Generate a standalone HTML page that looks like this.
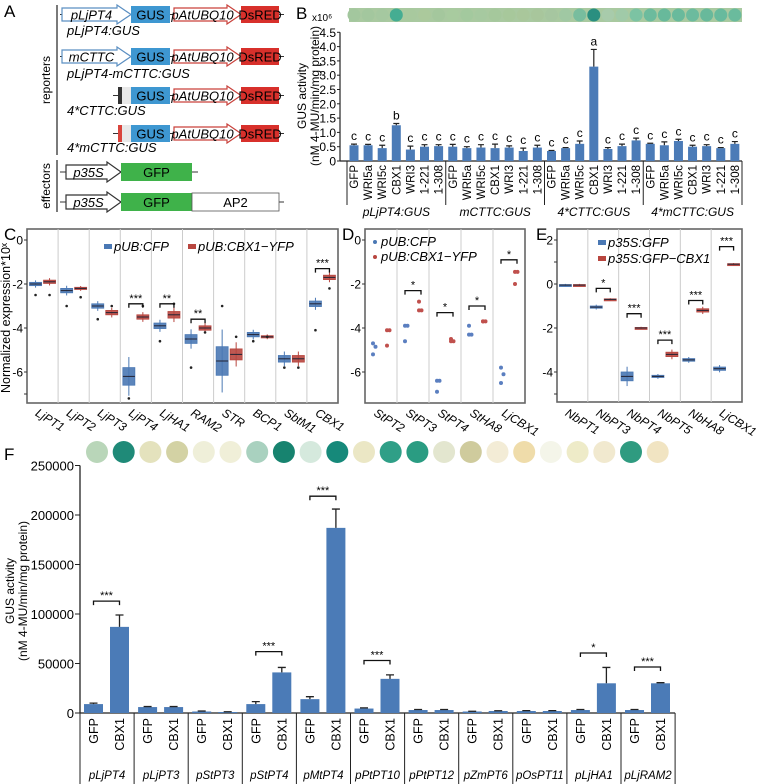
<!DOCTYPE html>
<html><head><meta charset="utf-8"><style>
html,body{margin:0;padding:0;background:#fff}
svg{display:block;font-family:"Liberation Sans",sans-serif}
</style></head><body>
<svg id="fig" width="757" height="784" viewBox="0 0 757 784" xmlns="http://www.w3.org/2000/svg">
<g id="panelA">
<text x="4" y="17" font-size="17">A</text>
<line x1="57" y1="5" x2="57" y2="155" stroke="#333" stroke-width="1.3"/>
<text transform="translate(50,80) rotate(-90)" text-anchor="middle" font-size="12">reporters</text>
<line x1="57" y1="160" x2="57" y2="212" stroke="#333" stroke-width="1.3"/>
<text transform="translate(50,186) rotate(-90)" text-anchor="middle" font-size="12">effectors</text>
</g>
<g id="panelB"></g>
<g id="panelC"></g>
<g id="panelD"></g>
<g id="panelE"></g>
<g id="panelF"></g>
</svg>
<script>
// ===== Panel B data =====
const bGroups = ["pLjPT4:GUS","mCTTC:GUS","4*CTTC:GUS","4*mCTTC:GUS"];
const bCats = ["GFP","WRI5a","WRI5c","CBX1","WRI3","1-221","1-308"];
const bValues = [0.55,0.55,0.45,1.25,0.40,0.50,0.52, 0.50,0.45,0.47,0.45,0.47,0.35,0.47, 0.35,0.45,0.60,3.30,0.42,0.52,0.72, 0.60,0.55,0.70,0.50,0.52,0.45,0.60];
const bErrors = [0.04,0.03,0.10,0.06,0.12,0.07,0.05, 0.08,0.05,0.10,0.14,0.06,0.10,0.08, 0.02,0.02,0.10,0.60,0.05,0.07,0.08, 0.02,0.12,0.06,0.05,0.05,0.02,0.08];
const bLetters = ["c","c","c","b","c","c","c","c","c","c","c","c","c","c","c","c","c","a","c","c","c","c","c","c","c","c","c","c"];
const bTicks = [0,0.5,1.0,1.5,2.0,2.5,3.0,3.5,4.0,4.5];
const bTickLabels = ["0","0.5","1.0","1.5","2.0","2.5","3.0","3.5","4.0","4.5"];
// ===== Panel C data =====
const cCats = ["LjPT1","LjPT2","LjPT3","LjPT4","LjHA1","RAM2","STR","BCP1","SbtM1","CBX1"];
const cMedBlue = [-2.0,-2.3,-3.0,-6.2,-3.9,-4.5,-5.5,-4.3,-5.4,-2.9];
const cMedRed = [-1.9,-2.2,-3.3,-3.5,-3.4,-4.0,-5.2,-4.4,-5.4,-1.7];
const cIqrBlue = [0.15,0.2,0.2,0.8,0.25,0.4,1.3,0.2,0.3,0.25];
const cIqrRed = [0.15,0.1,0.2,0.2,0.3,0.2,0.5,0.1,0.3,0.2];
const cOutBlue = [-2.5,-3.0,-3.6,-7.2,-4.6,-5.8,-3.0,-4.6,-5.8,-4.1];
const cOutRed = [-2.5,-2.6,-3.0,-3.0,-2.9,-4.2,-4.4,-4.4,-5.8,-2.2];
const cSig = ["","","","***","**","**","","","","***"];
const cSigLevel = [0,0,0,-2.9,-2.9,-3.6,0,0,0,-1.3];
// ===== Panel D data =====
const dCats = ["StPT2","StPT3","StPT4","StHA8","LjCBX1"];
const dBlue = [[-4.7,-4.85,-5.2],[-3.9,-3.9,-4.6],[-6.4,-6.4,-6.9],[-3.9,-4.3,-4.3],[-5.8,-6.1,-6.5]];
const dRed = [[-4.1,-4.1,-4.8],[-2.8,-3.2,-3.2],[-4.5,-4.6,-4.6],[-3.7,-3.7,-3.7],[-1.45,-1.45,-2.0]];
const dSig = ["","*","*","*","*"];
const dSigLevel = [0,-2.3,-3.3,-3.0,-0.9];
// ===== Panel E data =====
const eCats = ["NbPT1","NbPT3","NbPT4","NbPT5","NbHA8","LjCBX1"];
const eMedBlue = [-0.05,-1.05,-4.2,-4.2,-3.45,-3.85];
const eMedRed = [-0.05,-0.7,-2.0,-3.2,-1.2,0.9];
const eIqrBlue = [0.05,0.1,0.4,0.1,0.12,0.15];
const eIqrRed = [0.05,0.05,0.05,0.2,0.15,0.05];
const eSig = ["","*","***","***","***","***"];
const eSigLevel = [0,-0.2,-1.35,-2.55,-0.75,1.7];
// ===== Panel F data =====
const fGroups = ["pLjPT4","pLjPT3","pStPT3","pStPT4","pMtPT4","pPtPT10","pPtPT12","pZmPT6","pOsPT11","pLjHA1","pLjRAM2"];
const fGFP = [9000,6000,1500,9000,14000,4500,3000,1500,2000,3000,3000];
const fCBX1 = [87000,6000,1000,41000,187000,34500,3000,2000,2000,30000,30000];
const fGFPerr = [1000,500,500,2500,2500,700,500,300,400,500,500];
const fCBX1err = [12000,500,300,5000,19000,4000,500,300,400,16000,600];
const fSig = ["***","","","***","***","***","","","","*","***"];
const fSigLevel = [113000,0,0,62000,219000,53000,0,0,0,60600,46500];
const fTicks = [0,50000,100000,150000,200000,250000];
const fTickLabels = ["0","50000","100000","150000","200000","250000"];
const fDotColors = ["#b9d6b9","#1f8a78","#e4e2bd","#d3d2a4","#efefd9","#f0efd8","#a9d1bf","#17836f","#d5e9dd","#16897a","#ebe7c5","#2f9f87","#2a9c82","#e3e6cf","#cfcb9d","#f3ecd6","#efdcaa","#f4f5e9","#eeebc8","#f1e9cf","#2f9b80","#f1e4c2"];
const bStripColors = ["#a3c79e","#a3c79e","#a5c8a0","#45ad92","#a8c99e","#abc99c","#a4c79d","#a8cb9f","#a3c99e","#a6c9a0","#a5c89c","#a7c89b","#a9c79b","#a8c69c","#a6c6a0","#a0c8a3","#78bd9e","#2a8f80","#a8cbab","#a0caa8","#7cc3a3","#6cbb9d","#68b99b","#69ba9c","#6cbb9e","#68b99b","#67ba9d","#6abb9d"];

const NS="http://www.w3.org/2000/svg";
function mk(parent,tag,attrs,txt){const e=document.createElementNS(NS,tag);for(const k in attrs)e.setAttribute(k,attrs[k]);if(txt!==undefined)e.textContent=txt;parent.appendChild(e);return e;}
const BLUE="#4a78b4", RED="#b8463f", BAR="#4b7bb7";

// ===== Panel A constructs =====
(function(){
const g=document.getElementById('panelA');
function promoter(x1,x2,y,h,label,stroke,name){
  const p=mk(g,'path',{d:`M${x1},${y+3} L${x2-14},${y+3} L${x2-14},${y} L${x2},${y+h/2} L${x2-14},${y+h} L${x2-14},${y+h-3} L${x1},${y+h-3} Z`,fill:'#fff',stroke:stroke,'stroke-width':1.2});
  
  
  const t=mk(g,'text',{x:(x1+x2-10)/2,y:y+h/2+5,'text-anchor':'middle','font-size':13,'font-style':'italic'},label);
  
  
}
function box(x1,x2,y,h,fill,label,name){
  const r=mk(g,'rect',{x:x1,y:y,width:x2-x1,height:h,fill:fill,stroke:fill==='#fff'?'#555':'none','stroke-width':0.8});
  
  
  if(label){const t=mk(g,'text',{x:(x1+x2)/2,y:y+h/2+5,'text-anchor':'middle','font-size':13},label);
  
  }
}
const rows=[{y:6,pro:'pLjPT4',lab:'pLjPT4:GUS',ly:35},{y:48,pro:'mCTTC',lab:'pLjPT4-mCTTC:GUS',ly:78},{y:87,pro:null,lab:'4*CTTC:GUS',ly:115,m:'#333'},{y:125,pro:null,lab:'4*mCTTC:GUS',ly:152,m:'#d9443c'}];
rows.forEach((r,i)=>{
  const h=17;
  mk(g,'line',{x1:r.pro?60:113,y1:r.y+h/2,x2:284,y2:r.y+h/2,stroke:'#333','stroke-width':1});
  if(r.pro) promoter(62,131,r.y-1,h+2,r.pro,'#5b8fc2','reporter-promoter-'+i);
  else{ box(118,122,r.y,h,r.m,null,'cttc-element-'+i); box(122,131,r.y,h,'#e8e8e8',null,'core-promoter-'+i);}
  box(131,170,r.y,h,'#3e97d1','GUS','gus-box-'+i);
  promoter(174,241,r.y-1,h+2,'pAtUBQ10','#c9413b','ubq10-promoter-'+i);
  box(241,279,r.y,h,'#d8302b','DsRED','dsred-box-'+i);
  const t=mk(g,'text',{x:67,y:r.ly,'font-size':13,'font-style':'italic'},r.lab);
  
  
});
[163,193].forEach((y,i)=>{
  const h=18;
  mk(g,'line',{x1:60,y1:y+h/2,x2:i?284:198,y2:y+h/2,stroke:'#333','stroke-width':1});
  promoter(66,121,y-1,h+2,'p35S','#333','effector-promoter-'+i);
  box(121,192,y,h,'#3fb24a','GFP','gfp-box-'+i);
  if(i) box(192,279,y,h,'#fff','AP2','ap2-box');
});
})();

// ===== Panel B =====
(function(){
const g=document.getElementById('panelB');
const y0=161, ppu=28.6, x0=347, gw=98.75, bw=14.1;
const yB=v=>y0-v*ppu;
const xB=i=>x0+gw*Math.floor(i/7)+7+bw*(i%7);
mk(g,'text',{x:296,y:19,'font-size':17},'B');
const xl=mk(g,'text',{x:312,y:21,'font-size':10},'x10⁶');


mk(g,'rect',{x:349,y:8,width:393,height:14,fill:'#a9c9a0'});
bStripColors.forEach((c,i)=>{
  const d=mk(g,'circle',{cx:xB(i),cy:15,r:6.5,fill:c});
  
  
});
const t1=mk(g,'text',{transform:'translate(306,96) rotate(-90)','text-anchor':'middle','font-size':12},'GUS activity');


mk(g,'text',{transform:'translate(319,96) rotate(-90)','text-anchor':'middle','font-size':12},'(nM 4-MU/min/mg protein)');
mk(g,'line',{x1:340,y1:yB(4.5),x2:340,y2:y0,stroke:'#222','stroke-width':1.2});
bTicks.forEach((v,i)=>{
  mk(g,'line',{x1:337,y1:yB(v),x2:340,y2:yB(v),stroke:'#222'});
  const t=mk(g,'text',{x:336,y:yB(v)+4.5,'text-anchor':'end','font-size':12},bTickLabels[i]);
  
  
});
mk(g,'line',{x1:340,y1:y0,x2:742,y2:y0,stroke:'#222','stroke-width':1.2});
bValues.forEach((v,i)=>{
  const x=xB(i);
  const r=mk(g,'rect',{x:x-4.5,y:yB(v),width:9,height:v*ppu,fill:BAR});
  
  
  const e=bErrors[i];
  mk(g,'path',{d:`M${x},${yB(v)} V${yB(v+e)} M${x-3},${yB(v+e)} H${x+3}`,stroke:'#222','stroke-width':1.2,fill:'none'});
  const l=mk(g,'text',{x:x,y:yB(v+e)-4,'text-anchor':'middle','font-size':12},bLetters[i]);
  
  
  const c=mk(g,'text',{transform:`translate(${x+4},${y0+4}) rotate(-90)`,'text-anchor':'end','font-size':11.5},bCats[i%7]);
  
  
});
for(let k=0;k<=4;k++) mk(g,'line',{x1:x0+gw*k,y1:y0,x2:x0+gw*k,y2:205,stroke:'#222','stroke-width':1});
bGroups.forEach((n,k)=>{
  const t=mk(g,'text',{x:x0+gw*k+gw/2,y:216,'text-anchor':'middle','font-size':12,'font-style':'italic'},n);
  
  
});
})();

function frame(g,x1,x2,y1,y2,n){
  mk(g,'rect',{x:x1,y:y1,width:x2-x1,height:y2-y1,fill:'#fff',stroke:'#666','stroke-width':1.6});
  const w=(x2-x1)/n;
  for(let i=1;i<n;i++) mk(g,'line',{x1:x1+w*i,y1:y1,x2:x1+w*i,y2:y2,stroke:'#ccc','stroke-width':1});
  return w;
}
function ticks(g,x,vals,yf,labels){
  vals.forEach((v,i)=>{
    mk(g,'line',{x1:x-3,y1:yf(v),x2:x,y2:yf(v),stroke:'#333'});
    const t=mk(g,'text',{x:x-4,y:yf(v)+4.5,'text-anchor':'end','font-size':12},labels[i]);
    
    
  });
}
function catLabels(g,cats,xf,y){
  cats.forEach((c,i)=>{
    const t=mk(g,'text',{transform:`translate(${xf(i)-8},${y}) rotate(32)`,'font-size':12,'font-style':'italic'},c);
    
    
  });
}
function boxplot(g,x,med,iqr,col,yf,name){
  const q1=med-iqr/2,q3=med+iqr/2;
  mk(g,'line',{x1:x,y1:yf(q3+iqr*0.6),x2:x,y2:yf(q1-iqr*0.6),stroke:col,'stroke-width':1});
  const r=mk(g,'rect',{x:x-6,y:yf(q3),width:12,height:Math.max(2,yf(q1)-yf(q3)),fill:col,stroke:col,'stroke-width':0.8,'fill-opacity':0.9});
  
  
  mk(g,'line',{x1:x-6,y1:yf(med),x2:x+6,y2:yf(med),stroke:'#223','stroke-width':1});
}
function bracket(g,xa,xb,y,s){
  mk(g,'path',{d:`M${xa},${y+4} V${y} H${xb} V${y+4}`,stroke:'#111','stroke-width':1.3,fill:'none'});
  const t=mk(g,'text',{x:(xa+xb)/2,y:y-2,'text-anchor':'middle','font-size':11},s);
  
  
}
function legend(g,x,y,col,label,dot){
  if(dot) mk(g,'circle',{cx:x,cy:y-4,r:2,fill:col});
  else mk(g,'rect',{x:x-4,y:y-7,width:8,height:5,fill:col});
  const t=mk(g,'text',{x:x+6,y:y,'font-size':13,'font-style':'italic'},label);
  
  
}

// ===== Panel C =====
(function(){
const g=document.getElementById('panelC');
mk(g,'text',{x:4,y:240,'font-size':17},'C');
const x1=27,x2=338,y1=229,y2=403;
const yC=v=>240-v*22;
const w=frame(g,x1,x2,y1,y2,cCats.length);
const xC=i=>x1+w*(i+0.5);
ticks(g,x1,[0,-2,-4,-6],yC,["0","-2","-4","-6"]);
mk(g,'line',{x1:x1-3,y1:yC(-7),x2:x1,y2:yC(-7),stroke:'#333'});
const yt=mk(g,'text',{transform:'translate(10,318) rotate(-90)','text-anchor':'middle','font-size':12.5},'Normalized expression*10ˣ');


legend(g,108,251,BLUE,'pUB:CFP');
legend(g,192,251,RED,'pUB:CBX1−YFP');
cCats.forEach((c,i)=>{
  boxplot(g,xC(i)-7,cMedBlue[i],cIqrBlue[i],BLUE,yC,'box-cfp');
  boxplot(g,xC(i)+7,cMedRed[i],cIqrRed[i],RED,yC,'box-cbx1');
  mk(g,'circle',{cx:xC(i)-7,cy:yC(cOutBlue[i]),r:1.3,fill:'#222'});
  mk(g,'circle',{cx:xC(i)+7,cy:yC(cOutRed[i]),r:1.3,fill:'#222'});
  if(cSig[i]) bracket(g,xC(i)-7,xC(i)+7,yC(cSigLevel[i]),cSig[i]);
});
catLabels(g,cCats,xC,415);
})();

// ===== Panel D =====
(function(){
const g=document.getElementById('panelD');
mk(g,'text',{x:342,y:240,'font-size':17},'D');
const x1=365,x2=525,y1=229,y2=403;
const yD=v=>240-v*22;
const w=frame(g,x1,x2,y1,y2,dCats.length);
const xD=i=>x1+w*(i+0.5);
ticks(g,x1,[0,-2,-4,-6],yD,["0","-2","-4","-6"]);
legend(g,375,246,BLUE,'pUB:CFP',true);
legend(g,375,261,RED,'pUB:CBX1−YFP',true);
dCats.forEach((c,i)=>{
  dBlue[i].forEach((v,k)=>{const p=mk(g,'circle',{cx:xD(i)-8+(k===1?2.5:0),cy:yD(v),r:2,fill:'#5b7fc0'});
    
    });
  dRed[i].forEach((v,k)=>{const p=mk(g,'circle',{cx:xD(i)+6+(k===1?2.5:0),cy:yD(v),r:2,fill:'#c0504d'});
    
    });
  if(dSig[i]) bracket(g,xD(i)-8,xD(i)+8,yD(dSigLevel[i]),dSig[i]);
});
catLabels(g,dCats,xD,415);
})();

// ===== Panel E =====
(function(){
const g=document.getElementById('panelE');
mk(g,'text',{x:536,y:240,'font-size':17},'E');
const x1=557,x2=742,y1=229,y2=402;
const yE=v=>284-v*22;
const w=frame(g,x1,x2,y1,y2,eCats.length);
const xE=i=>x1+w*(i+0.5);
ticks(g,x1,[2,0,-2,-4],yE,["2","0","-2","-4"]);
mk(g,'line',{x1:x1-3,y1:yE(1),x2:x1,y2:yE(1),stroke:'#333'});
mk(g,'line',{x1:x1-3,y1:yE(-5),x2:x1,y2:yE(-5),stroke:'#333'});
legend(g,602,247,BLUE,'p35S:GFP');
legend(g,602,263,RED,'p35S:GFP−CBX1');
eCats.forEach((c,i)=>{
  boxplot(g,xE(i)-7,eMedBlue[i],eIqrBlue[i],BLUE,yE,'box-gfp');
  boxplot(g,xE(i)+7,eMedRed[i],eIqrRed[i],RED,yE,'box-gfp-cbx1');
  if(eSig[i]) bracket(g,xE(i)-7,xE(i)+7,yE(eSigLevel[i]),eSig[i]);
});
catLabels(g,eCats,xE,415);
})();

// ===== Panel F =====
(function(){
const g=document.getElementById('panelF');
mk(g,'text',{x:4,y:460,'font-size':17},'F');
const y0=713, s=0.00099, x0=80, gw=54.1;
const yF=v=>y0-v*s;
fDotColors.forEach((c,i)=>{
  const d=mk(g,'circle',{cx:97+i*26.7,cy:452,r:11,fill:c});
  
  
});
mk(g,'line',{x1:x0,y1:yF(250000),x2:x0,y2:y0,stroke:'#222','stroke-width':1.3});
fTicks.forEach((v,i)=>{
  mk(g,'line',{x1:x0-5,y1:yF(v),x2:x0,y2:yF(v),stroke:'#222'});
  const t=mk(g,'text',{x:x0-6,y:yF(v)+5,'text-anchor':'end','font-size':13},fTickLabels[i]);
  
  
});
const t1=mk(g,'text',{transform:'translate(14,591) rotate(-90)','text-anchor':'middle','font-size':12},'GUS activity');


mk(g,'text',{transform:'translate(27,591) rotate(-90)','text-anchor':'middle','font-size':12},'(nM 4-MU/min/mg protein)');
mk(g,'line',{x1:x0,y1:y0,x2:x0+gw*11,y2:y0,stroke:'#222','stroke-width':1.3});
function bar(x,v,e,name){
  const r=mk(g,'rect',{x:x-9.5,y:yF(v),width:19,height:v*s,fill:BAR});
  
  
  mk(g,'path',{d:`M${x},${yF(v)} V${yF(v+e)} M${x-4},${yF(v+e)} H${x+4}`,stroke:'#222','stroke-width':1.3,fill:'none'});
}
fGroups.forEach((n,k)=>{
  const gx=x0+gw*k;
  const xa=gx+13.5, xb=gx+39.5;
  bar(xa,fGFP[k],fGFPerr[k],'bar-gfp');
  bar(xb,fCBX1[k],fCBX1err[k],'bar-cbx1');
  if(fSig[k]) bracket(g,xa,xb,yF(fSigLevel[k]),fSig[k]);
  ['GFP','CBX1'].forEach((l,j)=>{
    const t=mk(g,'text',{transform:`translate(${(j?xb:xa)+4.5},${y0+5}) rotate(-90)`,'text-anchor':'end','font-size':12.5},l);
    
    
  });
  const gl=mk(g,'text',{x:gx+gw/2,y:779,'text-anchor':'middle','font-size':11.5,'font-style':'italic'},n);
  
  
});
for(let k=0;k<=11;k++) mk(g,'line',{x1:x0+gw*k,y1:y0,x2:x0+gw*k,y2:784,stroke:'#222','stroke-width':1});
})();
</script>
</body></html>
